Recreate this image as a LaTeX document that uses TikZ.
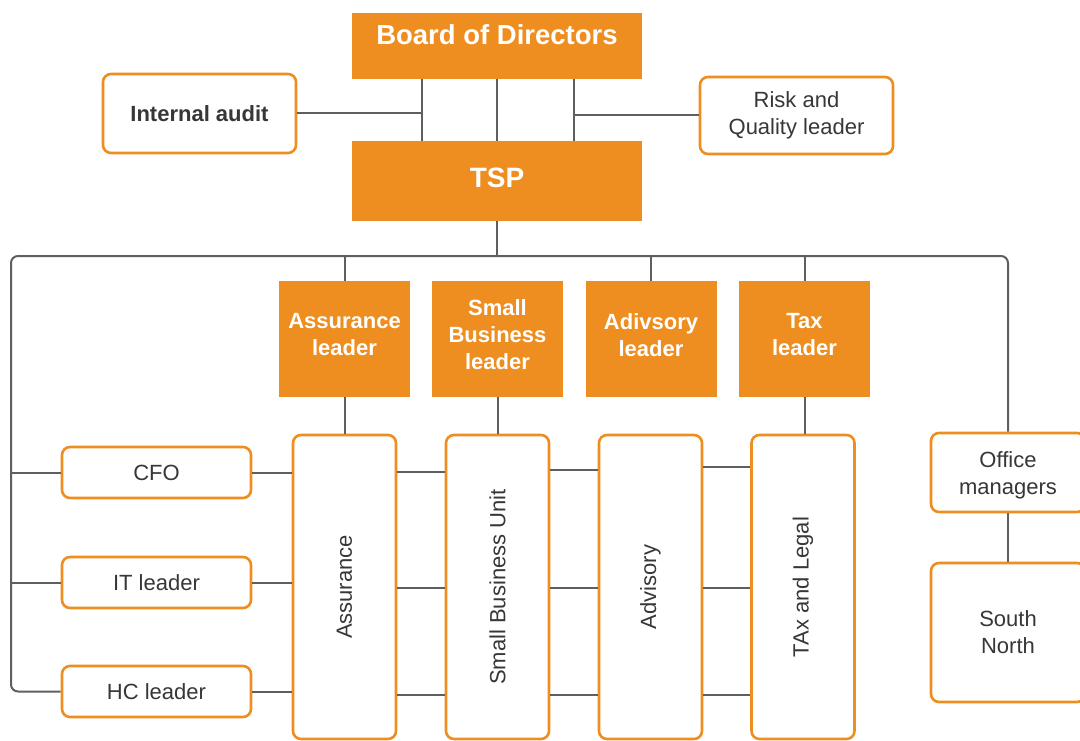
\documentclass[tikz,border=0pt]{standalone}
\usepackage{fontspec}
\setmainfont{Liberation Sans}
\definecolor{orgfill}{RGB}{239,142,32}
\definecolor{lngrey}{RGB}{95,95,95}
\definecolor{txgrey}{RGB}{55,55,55}
\begin{document}
\begin{tikzpicture}[x=1pt,y=-1pt,
  conn/.style={draw=lngrey,line width=2pt},
  fillbox/.style={fill=orgfill,draw=none,inner sep=0pt},
  boxtext/.style={text=white,font=\bfseries\fontsize{22}{27}\selectfont,align=center,inner sep=0pt},
  outbox/.style={draw=orgfill,line width=2.6pt,rounded corners=8pt,fill=white,text=txgrey,
     font=\fontsize{22}{27}\selectfont,align=center,inner sep=0pt},
  unittext/.style={rotate=90,text=txgrey,font=\fontsize{22}{27}\selectfont,inner sep=0pt},
  leaderbox/.style={fillbox,minimum width=131pt,minimum height=116pt},
  unitbox/.style={outbox,minimum width=103pt,minimum height=304pt},
  sidebox/.style={outbox,minimum width=189pt,minimum height=51pt}]
\useasboundingbox (0,0) rectangle (1080,741);
\fill[white] (0,0) rectangle (1080,741);
\clip (0,0) rectangle (1080,741);

% top
\node[fillbox,minimum width=290pt,minimum height=66pt,
  label={[boxtext,yshift=11pt,font=\bfseries\fontsize{27.5}{30}\selectfont]center:Board of Directors}] (bod) at (497,46) {};
\node[fillbox,minimum width=290pt,minimum height=80pt,
  label={[boxtext,yshift=3pt,font=\bfseries\fontsize{28}{30}\selectfont]center:TSP}] (tsp) at (497,181) {};
\node[outbox,minimum width=193pt,minimum height=79pt,font=\bfseries\fontsize{22}{27}\selectfont] (ia) at (199.5,113.5) {Internal audit};
\node[outbox,minimum width=193pt,minimum height=77pt] (rq) at (796.5,115.5) {Risk and\\Quality leader};

% leaders
\node[leaderbox,label={[boxtext,yshift=4pt]center:Assurance\\leader}] (al) at (344.5,339) {};
\node[leaderbox,label={[boxtext,yshift=4pt]center:Small\\Business\\leader}] (sl) at (497.5,339) {};
\node[leaderbox,label={[boxtext,yshift=4pt]center:Adivsory\\leader}] (dl) at (651,339) {};
\node[leaderbox,label={[boxtext,yshift=4pt]center:Tax\\leader}] (tl) at (804.5,339) {};

% units
\node[unitbox,label={[unittext]center:Assurance}] (au) at (344.5,587) {};
\node[unitbox,label={[unittext]center:Small Business Unit}] (su) at (497.5,587) {};
\node[unitbox,label={[unittext]center:Advisory}] (vu) at (650.5,587) {};
\node[unitbox,label={[unittext]center:TAx and Legal}] (xu) at (803,587) {};

% side boxes
\node[sidebox] (cfo) at (156.5,472.5) {CFO};
\node[sidebox] (it) at (156.5,582.5) {IT leader};
\node[sidebox] (hc) at (156.5,691.5) {HC leader};

% office
\node[outbox,minimum width=154pt,minimum height=79pt,
  label={[text=txgrey,font=\fontsize{22}{27}\selectfont,align=center,inner sep=0pt,yshift=-3pt]center:Office\\managers}] (om) at (1008,472.5) {};
\node[outbox,minimum width=154pt,minimum height=139pt] (sn) at (1008,632.5) {South\\North};

% coordinates
\coordinate (busL) at (11,256);
\coordinate (vA) at (422,0);
\coordinate (vB) at (574,0);
\coordinate (r1a) at (0,472);
\coordinate (r1b) at (0,470);
\coordinate (r1c) at (0,467);
\coordinate (r2) at (0,588);
\coordinate (r3) at (0,695);

% connectors top
\draw[conn] (bod.south) -- (tsp.north);
\draw[conn] (bod.south -| vA) -- (tsp.north -| vA);
\draw[conn] (bod.south -| vB) -- (tsp.north -| vB);
\draw[conn] (ia.east) -- (ia.east -| vA);
\draw[conn] (rq.west) -- (rq.west -| vB);

% bus
\draw[conn,rounded corners=7pt] (hc.west) -| (busL) -| (om.north);
\draw[conn] (tsp.south) -- (tsp.south |- busL);
\draw[conn] (al.north) -- (al.north |- busL);
\draw[conn] (dl.north) -- (dl.north |- busL);
\draw[conn] (tl.north) -- (tl.north |- busL);
\draw[conn] (al.south) -- (au.north);
\draw[conn] (sl.south) -- (su.north);
\draw[conn] (tl.south) -- (xu.north -| tl.south);
\draw[conn] (om.south) -- (sn.north);

% left side
\draw[conn] (cfo.west) -- (cfo.west -| busL);
\draw[conn] (it.west) -- (it.west -| busL);
\draw[conn] (cfo.east) -- (cfo.east -| au.west);
\draw[conn] (it.east) -- (it.east -| au.west);
\draw[conn] (hc.east) -- (hc.east -| au.west);

% between units
\draw[conn] (au.east |- r1a) -- (su.west |- r1a);
\draw[conn] (au.east |- r2) -- (su.west |- r2);
\draw[conn] (au.east |- r3) -- (su.west |- r3);
\draw[conn] (su.east |- r1b) -- (vu.west |- r1b);
\draw[conn] (su.east |- r2) -- (vu.west |- r2);
\draw[conn] (su.east |- r3) -- (vu.west |- r3);
\draw[conn] (vu.east |- r1c) -- (xu.west |- r1c);
\draw[conn] (vu.east |- r2) -- (xu.west |- r2);
\draw[conn] (vu.east |- r3) -- (xu.west |- r3);
\end{tikzpicture}
\end{document}
